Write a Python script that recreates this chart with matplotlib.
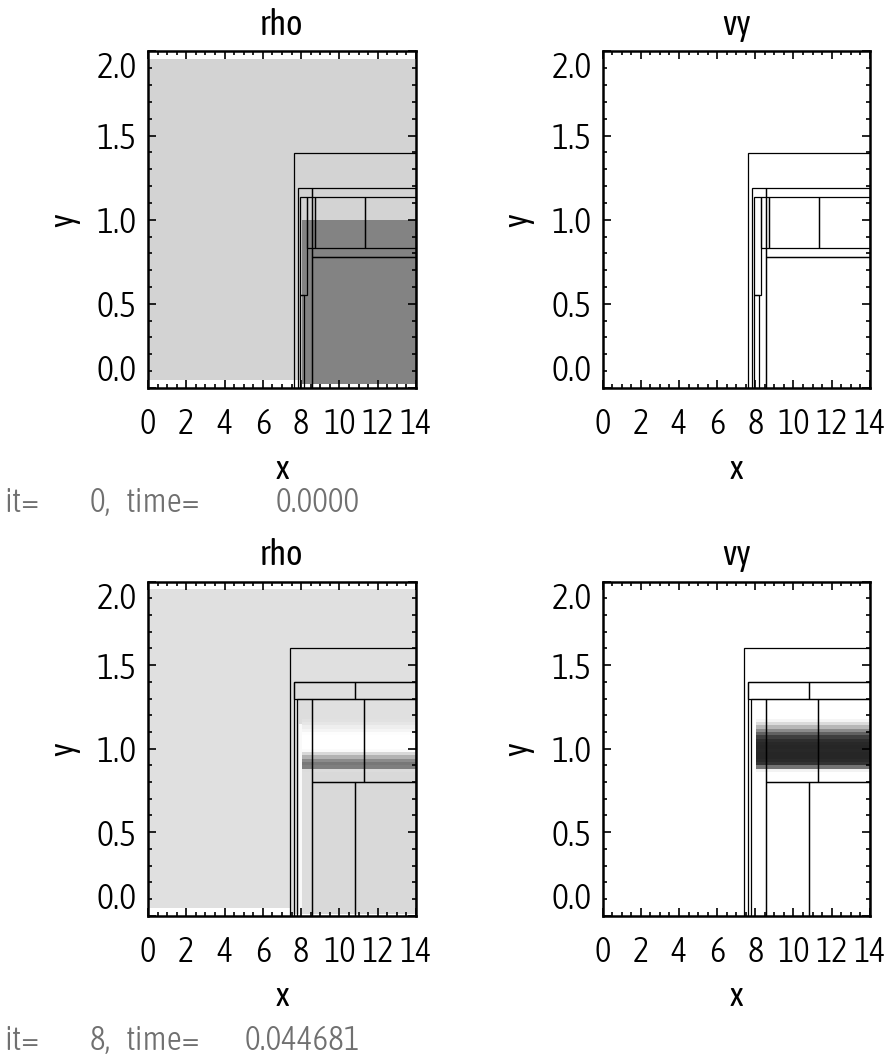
# AMR shear layer snapshots: rho and vy at two output times

import numpy as np
import matplotlib.pyplot as plt
from matplotlib.colors import Normalize
from matplotlib.patches import Rectangle
from matplotlib.ticker import MultipleLocator

plt.rcParams['font.family'] = ['Asap Condensed', 'Archivo Narrow', 'Liberation Sans', 'DejaVu Sans']
plt.rcParams['font.weight'] = 300

iters = [0, 8]
times = ['0.0000', '0.044681']
titles = ['rho', 'vy']
xticks = [0, 2, 4, 6, 8, 10, 12, 14]
yticks = [0.0, 0.5, 1.0, 1.5, 2.0]
ytick_labels = ['0.0', '0.5', '1.0', '1.5', '2.0']

# coarse level extent (cell centres)
coarse_x = [0.0, 14.0]
coarse_y = [0.045, 1.955]

# t = 0: ambient gas above, dense slab below y = 1 on the fine level
rho0_ambient = 1.0
rho0_dense = 2.0
dense_x = [8.03, 14.0]
dense_y = [0.025, 1.0]

# t = 0.044681: shear band on the finest level
rho1_ambient = 1.0
band_x = [8.05, 14.0]
band_y = [0.86, 0.88, 0.90, 0.92, 0.94, 0.96, 0.98, 1.00, 1.02,
          1.04, 1.06, 1.08, 1.10, 1.12, 1.14, 1.16, 1.18]
rho1_band = [1.015, 1.31, 1.335, 1.27, 1.146, 1.023, 0.916, 0.90,
             0.90, 0.90, 0.90, 0.908, 0.933, 0.957, 0.982, 0.998]
vy1_band = [0.06, 0.66, 0.96, 1.0, 1.02, 1.02, 1.01, 1.02,
            1.01, 0.98, 0.90, 0.74, 0.54, 0.34, 0.17, 0.05]
# other fine-level regions at t = 0.044681 (x0, x1, y0, y1, rho)
rho1_regions = [
    (7.40, 14.0, 0.01, 1.60, 1.0),
    (7.78, 8.55, 0.01, 1.30, 1.01),
    (7.86, 8.02, 0.01, 1.15, 0.92),
    (8.55, 14.0, 0.01, 0.86, 1.022),
]

# AMR block outlines (x0, x1, y0, y1)
blocks_t0 = [
    (7.60, 14.0, -0.1, 1.395),
    (7.82, 8.58, -0.1, 1.19),
    (8.58, 14.0, 0.78, 1.19),
    (8.58, 14.0, -0.1, 0.78),
    (7.93, 8.30, 0.55, 1.136),
    (8.30, 8.70, 0.83, 1.136),
    (8.70, 11.35, 0.83, 1.136),
    (11.35, 14.0, 0.83, 1.136),
    (7.93, 8.17, -0.1, 0.55),
]
blocks_t1 = [
    (7.40, 14.0, -0.1, 1.605),
    (7.60, 14.0, -0.1, 1.40),
    (7.60, 10.80, 1.30, 1.40),
    (10.80, 14.0, 1.30, 1.40),
    (7.78, 8.55, -0.1, 1.30),
    (8.55, 11.27, 0.80, 1.30),
    (11.27, 14.0, 0.80, 1.30),
    (8.55, 10.80, -0.1, 0.80),
    (10.80, 14.0, -0.1, 0.80),
]

norm_rho0 = Normalize(0.447, 3.642)
norm_rho1 = Normalize(0.90, 1.72)
norm_vy = Normalize(0.0, 1.2)


def patch(ax, xe, ye, vals, norm):
    v = np.array(vals, dtype=float).reshape(len(ye) - 1, len(xe) - 1)
    ax.pcolormesh(xe, ye, v, cmap='gray_r', norm=norm, shading='flat')


def style(ax, title, blocks):
    for x0, x1, y0, y1 in blocks:
        ax.add_patch(Rectangle((x0, y0), x1 - x0, y1 - y0, fill=False,
                               edgecolor='black', lw=0.9))
    ax.set_xlim(0, 14)
    ax.set_ylim(0, 2)
    ax.set_xticks(xticks)
    ax.set_yticks(yticks)
    ax.set_yticklabels(ytick_labels)
    ax.xaxis.set_minor_locator(MultipleLocator(0.5))
    ax.yaxis.set_minor_locator(MultipleLocator(0.1))
    ax.tick_params(which='both', direction='in', top=True, right=True, width=1.2)
    ax.tick_params(which='major', length=6)
    ax.tick_params(which='minor', length=3)
    ax.tick_params(axis='x', pad=14, labelsize=25)
    ax.tick_params(axis='y', pad=8, labelsize=26)
    labs = ax.get_yticklabels()
    labs[0].set_va('bottom')
    labs[-1].set_va('top')
    for s in ax.spines.values():
        s.set_linewidth(1.8)
    ax.set_title(title, fontsize=25, pad=12)
    ax.set_xlabel('x', fontsize=24, labelpad=8)
    ax.set_ylabel('y', fontsize=24, labelpad=12)


fig = plt.figure(figsize=(8.89, 10.56), dpi=100)
ax_tl = fig.add_axes([0.1665, 0.6326, 0.3015, 0.3187])
ax_tr = fig.add_axes([0.678, 0.6326, 0.3003, 0.3187])
ax_bl = fig.add_axes([0.1665, 0.1329, 0.3015, 0.3163])
ax_br = fig.add_axes([0.678, 0.1329, 0.3003, 0.3163])

# t = 0
patch(ax_tl, coarse_x, coarse_y, [rho0_ambient], norm_rho0)
patch(ax_tl, dense_x, dense_y, [rho0_dense], norm_rho0)
patch(ax_tr, coarse_x, coarse_y, [0.0], norm_vy)
style(ax_tl, titles[0], blocks_t0)
style(ax_tr, titles[1], blocks_t0)

# t = 0.044681
patch(ax_bl, coarse_x, coarse_y, [rho1_ambient], norm_rho1)
for x0, x1, y0, y1, r in rho1_regions:
    patch(ax_bl, [x0, x1], [y0, y1], [r], norm_rho1)
patch(ax_bl, band_x, band_y, rho1_band, norm_rho1)
patch(ax_br, coarse_x, coarse_y, [0.0], norm_vy)
patch(ax_br, band_x, band_y, vy1_band, norm_vy)
style(ax_bl, titles[0], blocks_t1)
style(ax_br, titles[1], blocks_t1)

# iteration / time annotations
W, H = 889, 1056
for it, t, ypx in zip(iters, times, [503, 1040]):
    yf = 1 - ypx / H
    kw = dict(fontsize=24, color='#707070', va='center')
    fig.text(4 / W, yf, 'it=', ha='left', **kw)
    fig.text(111 / W, yf, f'{it},', ha='right', **kw)
    fig.text(126 / W, yf, 'time=', ha='left', **kw)
    fig.text(360 / W, yf, t, ha='right', **kw)

fig.savefig('out.png', dpi=100)
